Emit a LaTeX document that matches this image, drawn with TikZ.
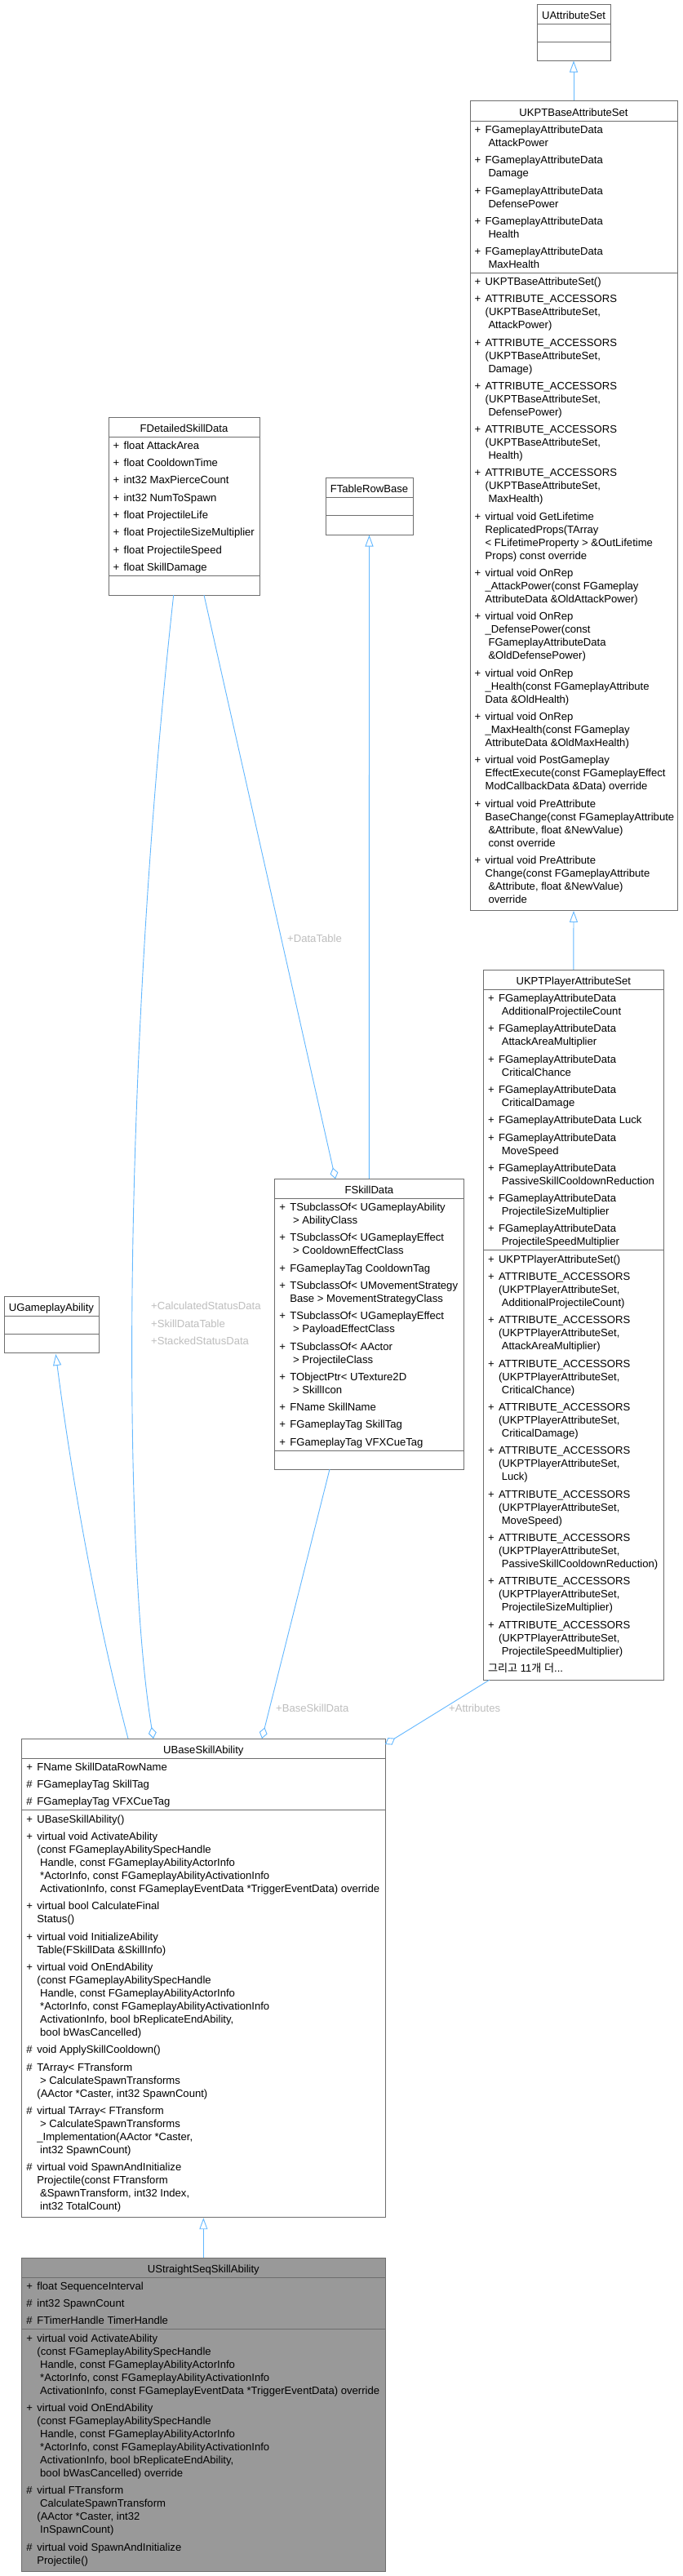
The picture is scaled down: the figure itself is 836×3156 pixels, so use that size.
\documentclass[tikz,border=0pt]{standalone}
\usepackage{fontspec}
\setmainfont{Liberation Sans}
\newfontfamily\krfont{Noto Sans CJK KR}
\usetikzlibrary{arrows.meta,fit}
\definecolor{boxborder}{HTML}{6E6E6E}
\definecolor{edgeblue}{HTML}{63B8FF}
\definecolor{lblgray}{HTML}{BEBEBE}
\definecolor{curfill}{HTML}{999999}
\newcommand{\fs}{\fontsize{13.1}{16}\selectfont}
\newcommand{\mP}{\makebox[13pt][l]{+}}
\newcommand{\mH}{\makebox[13pt][l]{\#}}
\newcommand{\cN}{\hspace*{13pt}}
\newcommand{\cS}{\hspace*{16.8pt}}
\newcommand{\gap}{\\[5.3pt]}
\tikzset{
  boxst/.style={draw=boxborder, line width=1pt, inner sep=0pt},
  divst/.style={draw=boxborder, line width=1pt},
  txt/.style={anchor=north west, inner sep=0pt, align=left, font=\fs},
  ttl/.style={anchor=north, inner sep=0pt, font=\fs},
  lbl/.style={anchor=north west, inner sep=0pt, align=left, font=\fs, text=lblgray},
  inh/.style={draw=edgeblue, line width=0.9pt, arrows={Triangle[open,length=14pt,width=10pt]-}},
  agg/.style={draw=edgeblue, line width=0.9pt, arrows={-Diamond[open,length=14pt,width=10pt]}},
}
\begin{document}
\begin{tikzpicture}[x=1pt,y=-1pt]
\useasboundingbox (0,0) rectangle (836,3156);
\fill[white] (0,0) rectangle (836,3156);

% ---------- UAttributeSet ----------
\node[boxst, fill=white, fit={(658,5)(748,74)}] (uattr) {};
\draw[divst] (658,29) -- (748,29);
\draw[divst] (658,51) -- (748,51);
\node[ttl] (uattrT) at (703,11.8) {\strut UAttributeSet};

% ---------- UKPTBaseAttributeSet ----------
\node[boxst, fill=white, fit={(576,123)(830,1115.4)}] (kbase) {};
\draw[divst] (576,148) -- (830,148);
\draw[divst] (576,334.2) -- (830,334.2);
\node[ttl] (kbaseT) at (703,130.8) {\strut UKPTBaseAttributeSet};
\node[txt] (kbaseA) at (581.5,152) {\strut\mP FGameplayAttributeData\\\cS AttackPower\gap
\mP FGameplayAttributeData\\\cS Damage\gap
\mP FGameplayAttributeData\\\cS DefensePower\gap
\mP FGameplayAttributeData\\\cS Health\gap
\mP FGameplayAttributeData\\\cS MaxHealth};
\node[txt] (kbaseM) at (581.5,338) {\strut\mP UKPTBaseAttributeSet()\gap
\mP ATTRIBUTE\_ACCESSORS\\\cN(UKPTBaseAttributeSet,\\\cS AttackPower)\gap
\mP ATTRIBUTE\_ACCESSORS\\\cN(UKPTBaseAttributeSet,\\\cS Damage)\gap
\mP ATTRIBUTE\_ACCESSORS\\\cN(UKPTBaseAttributeSet,\\\cS DefensePower)\gap
\mP ATTRIBUTE\_ACCESSORS\\\cN(UKPTBaseAttributeSet,\\\cS Health)\gap
\mP ATTRIBUTE\_ACCESSORS\\\cN(UKPTBaseAttributeSet,\\\cS MaxHealth)\gap
\mP virtual void GetLifetime\\\cN ReplicatedProps(TArray\\\cN< FLifetimeProperty > \&OutLifetime\\\cN Props) const override\gap
\mP virtual void OnRep\\\cN\_AttackPower(const FGameplay\\\cN AttributeData \&OldAttackPower)\gap
\mP virtual void OnRep\\\cN\_DefensePower(const\\\cS FGameplayAttributeData\\\cS\&OldDefensePower)\gap
\mP virtual void OnRep\\\cN\_Health(const FGameplayAttribute\\\cN Data \&OldHealth)\gap
\mP virtual void OnRep\\\cN\_MaxHealth(const FGameplay\\\cN AttributeData \&OldMaxHealth)\gap
\mP virtual void PostGameplay\\\cN EffectExecute(const FGameplayEffect\\\cN ModCallbackData \&Data) override\gap
\mP virtual void PreAttribute\\\cN BaseChange(const FGameplayAttribute\\\cS\&Attribute, float \&NewValue)\\\cS const override\gap
\mP virtual void PreAttribute\\\cN Change(const FGameplayAttribute\\\cS\&Attribute, float \&NewValue)\\\cS override};

% ---------- UKPTPlayerAttributeSet ----------
\node[boxst, fill=white, fit={(592.3,1188.3)(813.3,2058)}] (kplayer) {};
\draw[divst] (592.3,1212.3) -- (813.3,1212.3);
\draw[divst] (592.3,1531.7) -- (813.3,1531.7);
\node[ttl] (kplayerT) at (702.8,1195.2) {\strut UKPTPlayerAttributeSet};
\node[txt] (kplayerA) at (597.8,1216.1) {\strut\mP FGameplayAttributeData\\\cS AdditionalProjectileCount\gap
\mP FGameplayAttributeData\\\cS AttackAreaMultiplier\gap
\mP FGameplayAttributeData\\\cS CriticalChance\gap
\mP FGameplayAttributeData\\\cS CriticalDamage\gap
\mP FGameplayAttributeData Luck\gap
\mP FGameplayAttributeData\\\cS MoveSpeed\gap
\mP FGameplayAttributeData\\\cS PassiveSkillCooldownReduction\gap
\mP FGameplayAttributeData\\\cS ProjectileSizeMultiplier\gap
\mP FGameplayAttributeData\\\cS ProjectileSpeedMultiplier};
\node[txt] (kplayerM) at (597.8,1535.9) {\strut\mP UKPTPlayerAttributeSet()\gap
\mP ATTRIBUTE\_ACCESSORS\\\cN(UKPTPlayerAttributeSet,\\\cS AdditionalProjectileCount)\gap
\mP ATTRIBUTE\_ACCESSORS\\\cN(UKPTPlayerAttributeSet,\\\cS AttackAreaMultiplier)\gap
\mP ATTRIBUTE\_ACCESSORS\\\cN(UKPTPlayerAttributeSet,\\\cS CriticalChance)\gap
\mP ATTRIBUTE\_ACCESSORS\\\cN(UKPTPlayerAttributeSet,\\\cS CriticalDamage)\gap
\mP ATTRIBUTE\_ACCESSORS\\\cN(UKPTPlayerAttributeSet,\\\cS Luck)\gap
\mP ATTRIBUTE\_ACCESSORS\\\cN(UKPTPlayerAttributeSet,\\\cS MoveSpeed)\gap
\mP ATTRIBUTE\_ACCESSORS\\\cN(UKPTPlayerAttributeSet,\\\cS PassiveSkillCooldownReduction)\gap
\mP ATTRIBUTE\_ACCESSORS\\\cN(UKPTPlayerAttributeSet,\\\cS ProjectileSizeMultiplier)\gap
\mP ATTRIBUTE\_ACCESSORS\\\cN(UKPTPlayerAttributeSet,\\\cS ProjectileSpeedMultiplier)\gap
{\krfont 그리고} 11{\krfont 개} {\krfont 더}...};

% ---------- FDetailedSkillData ----------
\node[boxst, fill=white, fit={(133,511)(318,729)}] (fdet) {};
\draw[divst] (133,535) -- (318,535);
\draw[divst] (133,705.2) -- (318,705.2);
\node[ttl] (fdetT) at (225.5,517.8) {\strut FDetailedSkillData};
\node[txt] (fdetA) at (138.5,538.9) {\strut\mP float AttackArea\gap
\mP float CooldownTime\gap
\mP int32 MaxPierceCount\gap
\mP int32 NumToSpawn\gap
\mP float ProjectileLife\gap
\mP float ProjectileSizeMultiplier\gap
\mP float ProjectileSpeed\gap
\mP float SkillDamage};

% ---------- FTableRowBase ----------
\node[boxst, fill=white, fit={(399,585)(506,655)}] (trb) {};
\draw[divst] (399,609) -- (506,609);
\draw[divst] (399,631) -- (506,631);
\node[ttl] (trbT) at (452.5,591.8) {\strut FTableRowBase};

% ---------- FSkillData ----------
\node[boxst, fill=white, fit={(336.7,1444.3)(568,1800)}] (fsd) {};
\draw[divst] (336.7,1468.3) -- (568,1468.3);
\draw[divst] (336.7,1777) -- (568,1777);
\node[ttl] (fsdT) at (452.35,1451) {\strut FSkillData};
\node[txt] (fsdA) at (342.2,1472.1) {\strut\mP TSubclassOf< UGameplayAbility\\\cS> AbilityClass\gap
\mP TSubclassOf< UGameplayEffect\\\cS> CooldownEffectClass\gap
\mP FGameplayTag CooldownTag\gap
\mP TSubclassOf< UMovementStrategy\\\cN Base > MovementStrategyClass\gap
\mP TSubclassOf< UGameplayEffect\\\cS> PayloadEffectClass\gap
\mP TSubclassOf< AActor\\\cS> ProjectileClass\gap
\mP TObjectPtr< UTexture2D\\\cS> SkillIcon\gap
\mP FName SkillName\gap
\mP FGameplayTag SkillTag\gap
\mP FGameplayTag VFXCueTag};

% ---------- UGameplayAbility ----------
\node[boxst, fill=white, fit={(5,1588.3)(121,1657.7)}] (uga) {};
\draw[divst] (5,1612.3) -- (121,1612.3);
\draw[divst] (5,1634) -- (121,1634);
\node[ttl] (ugaT) at (63,1595.2) {\strut UGameplayAbility};

% ---------- UBaseSkillAbility ----------
\node[boxst, fill=white, fit={(26.7,2130)(472,2716.7)}] (ubase) {};
\draw[divst] (26.7,2154) -- (472,2154);
\draw[divst] (26.7,2217.6) -- (472,2217.6);
\node[ttl] (ubaseT) at (249.35,2136.8) {\strut UBaseSkillAbility};
\node[txt] (ubaseA) at (32.2,2157.8) {\strut\mP FName SkillDataRowName\gap
\mH FGameplayTag SkillTag\gap
\mH FGameplayTag VFXCueTag};
\node[txt] (ubaseM) at (32.2,2221.8) {\strut\mP UBaseSkillAbility()\gap
\mP virtual void ActivateAbility\\\cN(const FGameplayAbilitySpecHandle\\\cS Handle, const FGameplayAbilityActorInfo\\\cS*ActorInfo, const FGameplayAbilityActivationInfo\\\cS ActivationInfo, const FGameplayEventData *TriggerEventData) override\gap
\mP virtual bool CalculateFinal\\\cN Status()\gap
\mP virtual void InitializeAbility\\\cN Table(FSkillData \&SkillInfo)\gap
\mP virtual void OnEndAbility\\\cN(const FGameplayAbilitySpecHandle\\\cS Handle, const FGameplayAbilityActorInfo\\\cS*ActorInfo, const FGameplayAbilityActivationInfo\\\cS ActivationInfo, bool bReplicateEndAbility,\\\cS bool bWasCancelled)\gap
\mH void ApplySkillCooldown()\gap
\mH TArray< FTransform\\\cS> CalculateSpawnTransforms\\\cN(AActor *Caster, int32 SpawnCount)\gap
\mH virtual TArray< FTransform\\\cS> CalculateSpawnTransforms\\\cN\_Implementation(AActor *Caster,\\\cS int32 SpawnCount)\gap
\mH virtual void SpawnAndInitialize\\\cN Projectile(const FTransform\\\cS\&SpawnTransform, int32 Index,\\\cS int32 TotalCount)};

% ---------- UStraightSeqSkillAbility ----------
\node[boxst, fill=curfill, fit={(26.7,2766)(472,3150.2)}] (ustr) {};
\draw[divst] (26.7,2790) -- (472,2790);
\draw[divst] (26.7,2853.6) -- (472,2853.6);
\node[ttl] (ustrT) at (249.35,2772.8) {\strut UStraightSeqSkillAbility};
\node[txt] (ustrA) at (32.2,2793.8) {\strut\mP float SequenceInterval\gap
\mH int32 SpawnCount\gap
\mH FTimerHandle TimerHandle};
\node[txt] (ustrM) at (32.2,2857.8) {\strut\mP virtual void ActivateAbility\\\cN(const FGameplayAbilitySpecHandle\\\cS Handle, const FGameplayAbilityActorInfo\\\cS*ActorInfo, const FGameplayAbilityActivationInfo\\\cS ActivationInfo, const FGameplayEventData *TriggerEventData) override\gap
\mP virtual void OnEndAbility\\\cN(const FGameplayAbilitySpecHandle\\\cS Handle, const FGameplayAbilityActorInfo\\\cS*ActorInfo, const FGameplayAbilityActivationInfo\\\cS ActivationInfo, bool bReplicateEndAbility,\\\cS bool bWasCancelled) override\gap
\mH virtual FTransform\\\cS CalculateSpawnTransform\\\cN(AActor *Caster, int32\\\cS InSpawnCount)\gap
\mH virtual void SpawnAndInitialize\\\cN Projectile()};

% ---------- connector end points ----------
\coordinate (ugaTip) at (68.3,1659);
\coordinate (ubInh) at (157,2130);
\coordinate (fdA) at (212.7,729);
\coordinate (fdB) at (250,729);
\coordinate (fsdTop) at (411,1444.3);
\coordinate (ubAgg1) at (188,2130);
\coordinate (fsdBot) at (404,1800);
\coordinate (ubAgg2) at (321,2130);
\coordinate (kpBot) at (600,2058);
\coordinate (ubAgg3) at (472,2137);

% ---------- inheritance ----------
\draw[inh] (uattr.south) -- (kbase.north);
\draw[inh] (kbase.south) -- (kplayer.north);
\draw[inh] (trb.south) -- (fsd.north);
\draw[inh] (ubase.south) -- (ustr.north);
\draw[inh] (ugaTip) .. controls (87.8,1810) and (117.4,1980) .. (ubInh);

% ---------- aggregation ----------
\draw[agg] (fdB) -- (fsdTop);
\draw[agg] (fdA) .. controls (150,1300) and (150,1900) .. (ubAgg1);
\draw[agg] (fsdBot) -- (ubAgg2);
\draw[agg] (kpBot) -- (ubAgg3);

% ---------- labels ----------
\node[lbl] (lblDT) at (352,1144.5) {+DataTable};
\node[lbl] (lblCS) at (185,1595.2) {+CalculatedStatusData\gap +SkillDataTable\gap +StackedStatusData};
\node[lbl] (lblBS) at (338,2087.5) {+BaseSkillData};
\node[lbl] (lblAT) at (550,2087.5) {+Attributes};
\end{tikzpicture}
\end{document}
